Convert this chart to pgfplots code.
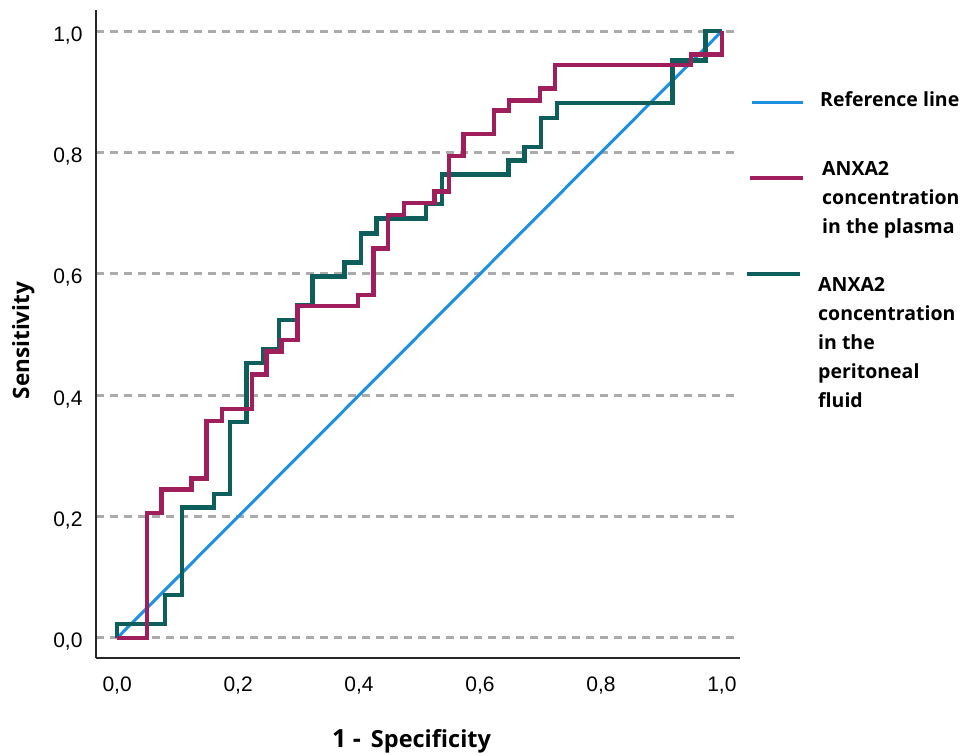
\documentclass[border=0pt]{standalone}
\usepackage{pgfplots}
\pgfplotsset{compat=1.18}
\usepackage{fontspec}
\setmainfont{Liberation Sans}
\newfontfamily\lblfont{Open Sans}
\definecolor{refblue}{HTML}{1E90E0}
\definecolor{plasma}{HTML}{9E1F5C}
\definecolor{perit}{HTML}{0E5E5B}
\definecolor{gridgray}{HTML}{ABABAB}
\begin{document}
\begin{tikzpicture}
\path[use as bounding box] (-96pt,-96pt) rectangle (864pt,658pt);
\begin{axis}[
  at={(0pt,0pt)}, anchor=south west,
  scale only axis, width=644pt, height=648pt,
  xmin=-0.035, xmax=1.03, ymin=-0.033, ymax=1.035,
  axis x line*=bottom, axis y line*=left,
  axis line style={line width=1.8pt, color=black!85, -},
  xtick={0,0.2,0.4,0.6,0.8,1}, ytick={0,0.2,0.4,0.6,0.8,1},
  major tick length=0pt,
  ymajorgrids,
  grid style={gridgray, line width=3pt, dash pattern=on 8pt off 6pt},
  /pgf/number format/assume math mode=true,
  /pgf/number format/use comma,
  /pgf/number format/fixed,
  /pgf/number format/fixed zerofill,
  /pgf/number format/precision=1,
  xticklabel style={font=\fontsize{21}{25}\selectfont, yshift=-15pt},
  yticklabel style={font=\fontsize{21}{25}\selectfont, xshift=-10pt, yshift=-4pt},
  xlabel={{\lblfont\bfseries\fontsize{25}{28}\selectfont 1 -}\hspace{10pt}{\lblfont\bfseries\fontsize{23.5}{26}\selectfont Specificity}},
  xlabel style={at={(axis description cs:0.49,0)}, anchor=base, yshift=-89pt},
  ylabel={\lblfont\bfseries\fontsize{22.5}{26}\selectfont Sensitivity},
  ylabel style={at={(axis description cs:-0.113,0.49)}, anchor=center},
]
\addplot[refblue, line width=3pt, sharp plot] coordinates {(0,0) (1,1)};
\addplot[perit, line width=4.5pt, sharp plot] coordinates {
(0,0) (0,0.023) (0.079,0.023) (0.079,0.071) (0.107,0.071) (0.107,0.215)
(0.160,0.215) (0.160,0.237) (0.187,0.237) (0.187,0.356) (0.214,0.356)
(0.214,0.453) (0.241,0.453) (0.241,0.476) (0.268,0.476) (0.268,0.524)
(0.297,0.524) (0.297,0.549) (0.323,0.549) (0.323,0.596) (0.376,0.596)
(0.376,0.619) (0.403,0.619) (0.403,0.667) (0.429,0.667) (0.429,0.691)
(0.511,0.691) (0.511,0.715) (0.537,0.715) (0.537,0.764) (0.647,0.764)
(0.647,0.787) (0.674,0.787) (0.674,0.809) (0.701,0.809) (0.701,0.857)
(0.727,0.857) (0.727,0.882) (0.918,0.882) (0.918,0.952) (0.973,0.952)
(0.973,1) (1,1)};
\addplot[plasma, line width=4.5pt, sharp plot] coordinates {
(0,0) (0.049,0) (0.049,0.206) (0.073,0.206) (0.073,0.245) (0.123,0.245)
(0.123,0.263) (0.148,0.263) (0.148,0.358) (0.173,0.358) (0.173,0.377)
(0.223,0.377) (0.223,0.434) (0.247,0.434) (0.247,0.472) (0.272,0.472)
(0.272,0.491) (0.298,0.491) (0.298,0.547) (0.398,0.547) (0.398,0.565)
(0.424,0.565) (0.424,0.642) (0.448,0.642) (0.448,0.697) (0.474,0.697)
(0.474,0.717) (0.525,0.717) (0.525,0.736) (0.549,0.736) (0.549,0.794)
(0.573,0.794) (0.573,0.831) (0.623,0.831) (0.623,0.869) (0.648,0.869)
(0.648,0.886) (0.699,0.886) (0.699,0.906) (0.724,0.906) (0.724,0.944)
(0.949,0.944) (0.949,0.962) (1,0.962) (1,1)};
\end{axis}
% legend (drawn beside the axis)
\draw[refblue, line width=3pt] (656pt,555pt) -- (707pt,555pt);
\draw[plasma, line width=4.5pt] (654pt,480pt) -- (707pt,480pt);
\draw[perit, line width=4.5pt] (651pt,384pt) -- (704pt,384pt);
\begin{scope}[every node/.style={inner sep=0pt, anchor=base west,
   font=\lblfont\bfseries\fontsize{19.5}{29}\selectfont}]
\node at (724pt,551pt) {Reference line};
\node at (726pt,482pt) {\parbox[t]{150pt}{\raggedright ANXA2\\concentration\\in the plasma}};
\node at (722pt,366pt) {\parbox[t]{150pt}{\raggedright ANXA2\\concentration\\in the\\peritoneal\\fluid}};
\end{scope}
\end{tikzpicture}
\end{document}
